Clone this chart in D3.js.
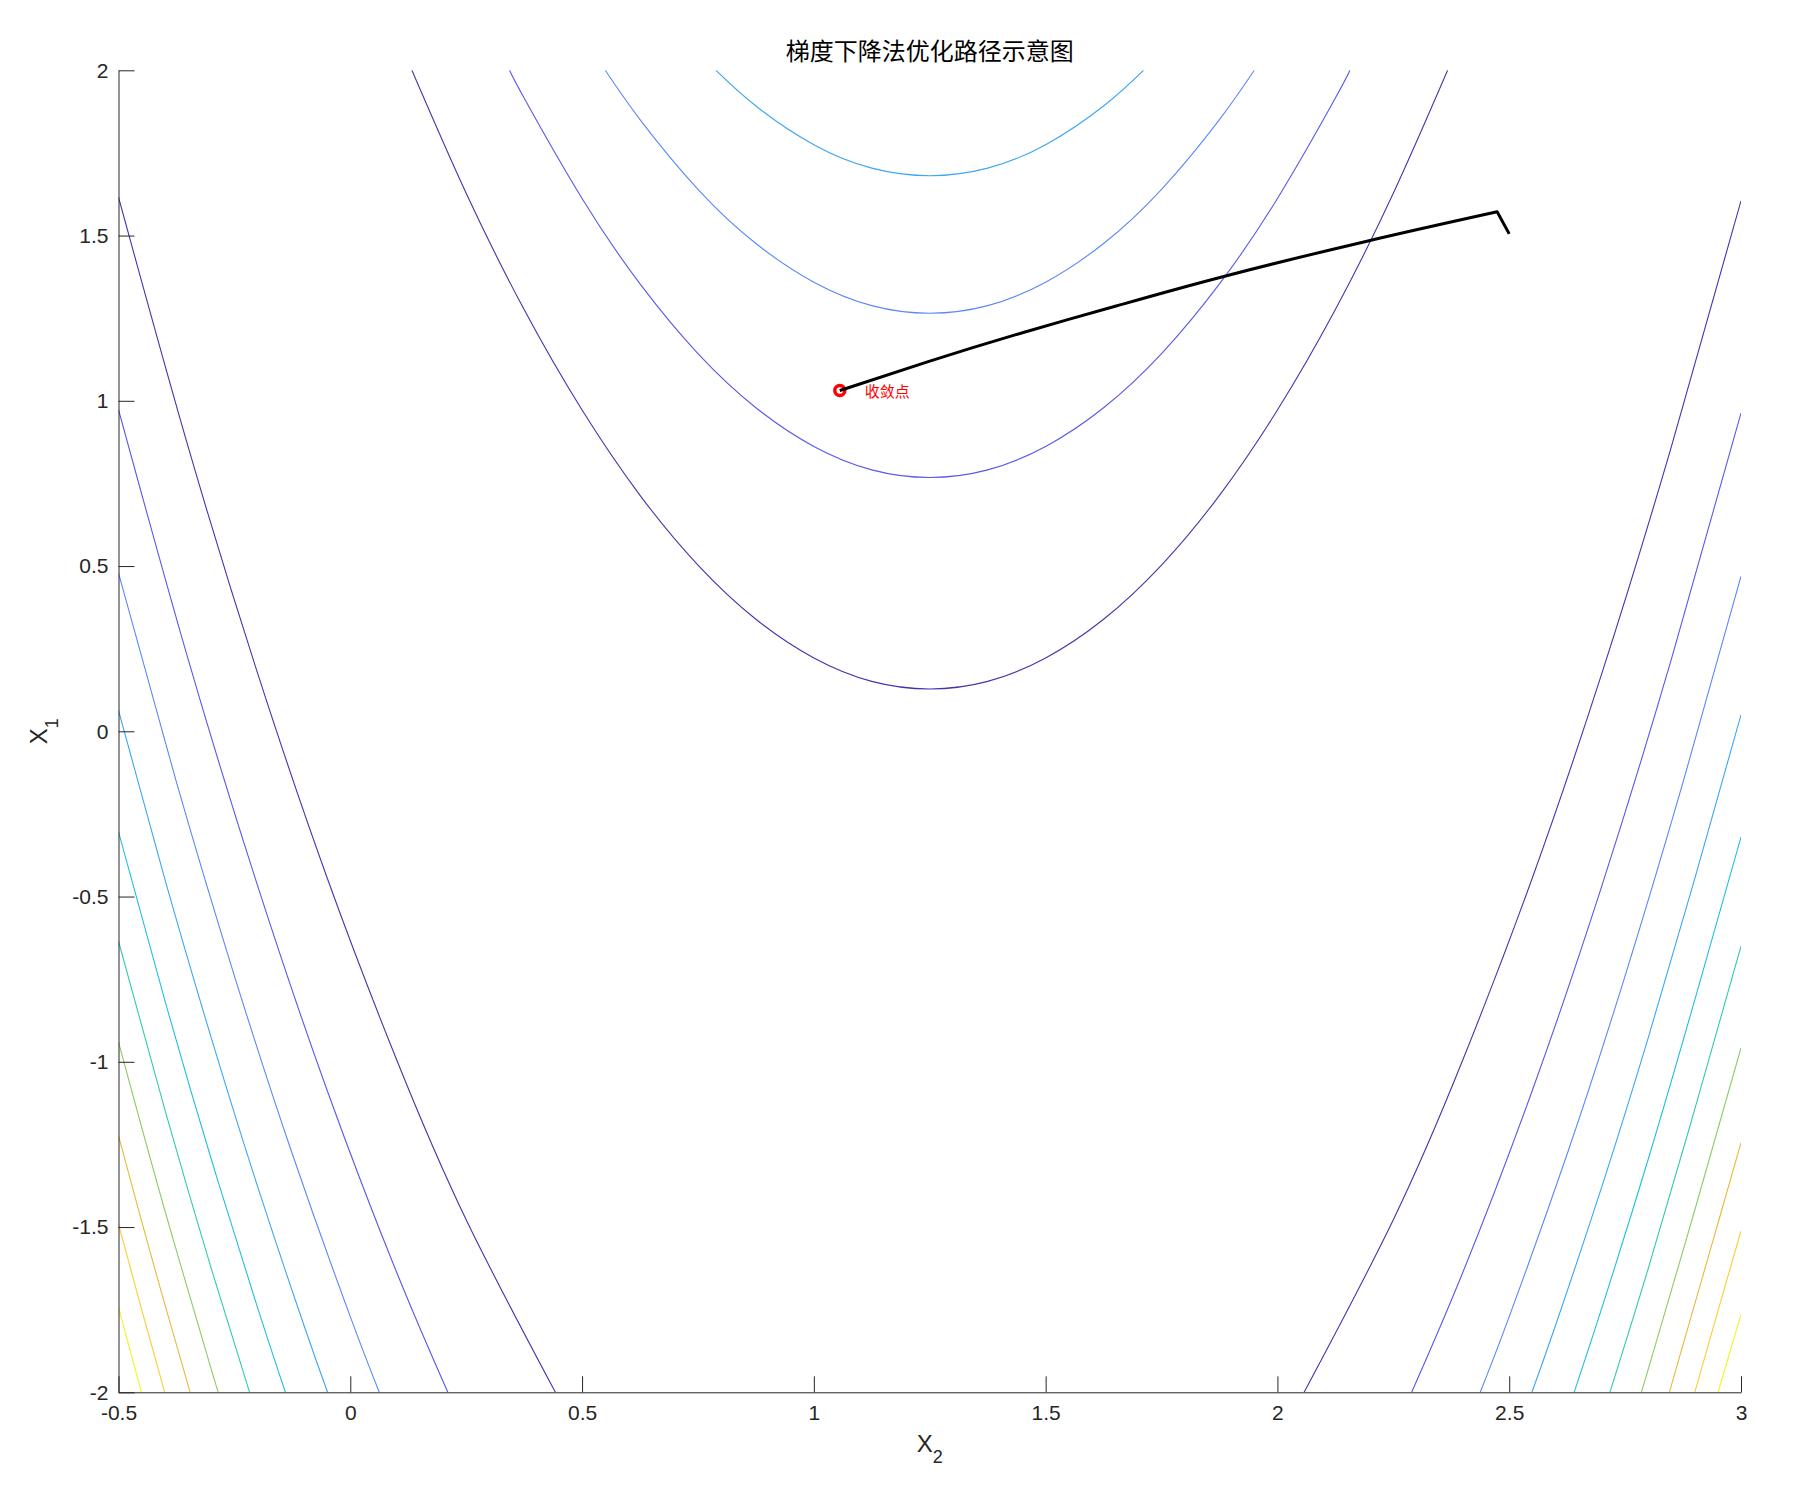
<!DOCTYPE html>
<html>
<head>
<meta charset="utf-8">
<script src="https://cdn.jsdelivr.net/npm/d3@7"></script>
<style>
  html, body { margin: 0; padding: 0; background: #ffffff; }
  svg { display: block; }
  .tick text { font-family: "Liberation Sans", Arial, Helvetica, sans-serif; font-size: 21px; fill: #262626; }
  .tick line, .domain { stroke: #262626; stroke-width: 1; }
</style>
</head>
<body>
<svg id="chart" width="1800" height="1492"></svg>
<script>
// ---------------- data ----------------
const chartTitle = "梯度下降法优化路径示意图";
const xLabel = "X";   // subscript 2
const yLabel = "X";   // subscript 1
const convergenceLabel = "收敛点";

const xTicks = [-0.5, 0, 0.5, 1, 1.5, 2, 2.5, 3];
const yTicks = [-2, -1.5, -1, -0.5, 0, 0.5, 1, 1.5, 2];

// contour level values (level index 1..10)
const contourLevels = [2.41, 4.82, 7.24, 9.65, 12.06, 14.47, 16.88, 19.30, 21.71, 24.12];

// closed-bowl contours in the middle (levels 1..4), points as [x2, x1]
const bowlContours = [
  [[0.1329, 2], [0.25, 1.628], [0.375, 1.276], [0.5, 0.972], [0.625, 0.714], [0.75, 0.503], [0.875, 0.339], [1.0, 0.222], [1.125, 0.151], [1.25, 0.128],
   [1.375, 0.151], [1.5, 0.222], [1.625, 0.339], [1.75, 0.503], [1.875, 0.714], [2.0, 0.972], [2.125, 1.276], [2.25, 1.628], [2.3671, 2]],
  [[0.3437, 2], [0.375, 1.916], [0.5, 1.612], [0.625, 1.354], [0.75, 1.143], [0.875, 0.979], [1.0, 0.862], [1.125, 0.791], [1.25, 0.768],
   [1.375, 0.791], [1.5, 0.862], [1.625, 0.979], [1.75, 1.143], [1.875, 1.354], [2.0, 1.612], [2.125, 1.916], [2.1563, 2]],
  [[0.55, 2], [0.625, 1.851], [0.75, 1.640], [0.875, 1.476], [1.0, 1.359], [1.125, 1.288], [1.25, 1.265],
   [1.375, 1.288], [1.5, 1.359], [1.625, 1.476], [1.75, 1.640], [1.875, 1.851], [1.95, 2]],
  [[0.7888, 2], [0.875, 1.892], [1.0, 1.775], [1.125, 1.704], [1.25, 1.681], [1.375, 1.704], [1.5, 1.775], [1.625, 1.892], [1.7112, 2]]
];

// left-side contour branches (levels 1..10)
const leftContours = [
  [[-0.5, 1.616], [-0.35, 0.862], [-0.2, 0.176], [-0.05, -0.443], [0.1, -0.994], [0.25, -1.478], [0.4425, -2]],
  [[-0.5, 0.973], [-0.35, 0.219], [-0.2, -0.467], [-0.05, -1.086], [0.1, -1.637], [0.2104, -2]],
  [[-0.5, 0.479], [-0.375, -0.154], [-0.25, -0.740], [-0.125, -1.279], [0, -1.771], [0.0626, -2]],
  [[-0.5, 0.063], [-0.4, -0.447], [-0.3, -0.927], [-0.2, -1.377], [-0.1, -1.797], [-0.049, -2]],
  [[-0.5, -0.304], [-0.4, -0.814], [-0.3, -1.294], [-0.2, -1.744], [-0.14, -2]],
  [[-0.5, -0.635], [-0.4, -1.145], [-0.3, -1.625], [-0.2172, -2]],
  [[-0.5, -0.940], [-0.4, -1.450], [-0.3, -1.930], [-0.2849, -2]],
  [[-0.5, -1.224], [-0.45, -1.483], [-0.4, -1.734], [-0.3454, -2]],
  [[-0.5, -1.491], [-0.45, -1.750], [-0.4003, -2]],
  [[-0.5, -1.743], [-0.4504, -2]]
];

// right-side contour branches (levels 1..10)
const rightContours = [
  [[3, 1.605], [2.85, 0.862], [2.7, 0.176], [2.55, -0.443], [2.4, -0.994], [2.25, -1.478], [2.0575, -2]],
  [[3, 0.963], [2.85, 0.219], [2.7, -0.467], [2.55, -1.086], [2.4, -1.637], [2.2896, -2]],
  [[3, 0.469], [2.875, -0.154], [2.75, -0.740], [2.625, -1.279], [2.5, -1.771], [2.4374, -2]],
  [[3, 0.050], [2.9, -0.447], [2.8, -0.927], [2.7, -1.377], [2.6, -1.797], [2.549, -2]],
  [[3, -0.320], [2.9, -0.814], [2.8, -1.294], [2.7, -1.744], [2.64, -2]],
  [[3, -0.650], [2.9, -1.145], [2.8, -1.625], [2.7172, -2]],
  [[3, -0.958], [2.9, -1.450], [2.8, -1.930], [2.7849, -2]],
  [[3, -1.245], [2.95, -1.490], [2.9, -1.734], [2.8454, -2]],
  [[3, -1.512], [2.95, -1.755], [2.9003, -2]],
  [[3, -1.765], [2.9504, -2]]
];

// gradient-descent path: start point, then the smooth run to the convergence point, [x2, x1]
const pathStart = [2.500, 1.505];
const descentPath = [
  [2.474, 1.572], [2.193, 1.483], [1.878, 1.374], [1.65, 1.286], [1.45, 1.206], [1.25, 1.120], [1.056, 1.031]
];
const convergencePoint = [1.056, 1.031];

// ---------------- styles ----------------
const levelPalette = ['#4236aa', '#5858ec', '#5a88f7', '#3ea6f2', '#1ebfe0', '#33c9b0', '#8ccb64', '#e6b93a', '#fccd2e', '#f4f31c'];

// ---------------- drawing ----------------
(function () {
const svg = d3.select("#chart");
const W = 1800, H = 1492;
svg.append("rect").attr("width", W).attr("height", H).attr("fill", "#ffffff");

const pL = 118.5, pR = 1741, pT = 70.3, pB = 1392.3;
const x = d3.scaleLinear().domain([-0.5, 3]).range([pL, pR]);
const y = d3.scaleLinear().domain([-2, 2]).range([pB, pT]);
const color = d3.scaleOrdinal().domain(d3.range(contourLevels.length)).range(levelPalette);

svg.append("defs").append("clipPath").attr("id", "plotClip")
  .append("rect").attr("x", pL).attr("y", pT).attr("width", pR - pL).attr("height", pB - pT);

const line = d3.line().x(d => x(d[0])).y(d => y(d[1])).curve(d3.curveNatural);

const gC = svg.append("g").attr("clip-path", "url(#plotClip)");
function drawSet(set) {
  gC.selectAll(null).data(set).enter().append("path")
    .attr("d", d => line(d))
    .attr("fill", "none")
    .attr("stroke", (d, i) => color(i))
    .attr("stroke-width", 1.1);
}
drawSet(bowlContours);
drawSet(leftContours);
drawSet(rightContours);

// axes
const xAxis = d3.axisBottom(x).tickValues(xTicks).tickFormat(d => String(d)).tickSize(-16).tickSizeOuter(0).tickPadding(13);
const yAxis = d3.axisLeft(y).tickValues(yTicks).tickFormat(d => String(d)).tickSize(-16).tickSizeOuter(0).tickPadding(10);
svg.append("g").attr("transform", `translate(0,${pB})`).call(xAxis);
svg.append("g").attr("transform", `translate(${pL},0)`).call(yAxis);

// convergence marker
svg.append("circle")
  .attr("cx", x(convergencePoint[0])).attr("cy", y(convergencePoint[1]))
  .attr("r", 5).attr("fill", "none").attr("stroke", "#ff0000").attr("stroke-width", 3.5);

// path (sharp first step, then smooth)
const smooth = d3.line().x(d => x(d[0])).y(d => y(d[1])).curve(d3.curveNatural)(descentPath);
const dPath = `M${x(pathStart[0])},${y(pathStart[1])}L` + smooth.slice(1);
svg.append("path")
  .attr("d", dPath)
  .attr("fill", "none").attr("stroke", "#000000").attr("stroke-width", 3).attr("stroke-linejoin", "round");

svg.append("text")
  .attr("x", x(convergencePoint[0]) + 25).attr("y", y(convergencePoint[1]) + 6)
  .attr("font-family", "'Noto Sans CJK SC', sans-serif").attr("font-size", 15)
  .attr("fill", "#ff0000").text(convergenceLabel);

// title
svg.append("text")
  .attr("x", (pL + pR) / 2).attr("y", 60)
  .attr("text-anchor", "middle")
  .attr("font-family", "'Noto Sans CJK SC', sans-serif").attr("font-size", 24)
  .attr("fill", "#000000").text(chartTitle);

// axis labels
const xl = svg.append("text")
  .attr("x", (pL + pR) / 2).attr("y", 1452)
  .attr("text-anchor", "middle")
  .attr("font-family", "'Liberation Sans', Arial, sans-serif").attr("font-size", 24).attr("fill", "#262626");
xl.append("tspan").text(xLabel);
xl.append("tspan").attr("dy", 11).attr("font-size", 18).text("2");

const yl = svg.append("text")
  .attr("transform", `translate(47,${(pT + pB) / 2}) rotate(-90)`)
  .attr("text-anchor", "middle")
  .attr("font-family", "'Liberation Sans', Arial, sans-serif").attr("font-size", 24).attr("fill", "#262626");
yl.append("tspan").text(yLabel);
yl.append("tspan").attr("dy", 11).attr("font-size", 18).text("1");
})();
</script>
</body>
</html>
